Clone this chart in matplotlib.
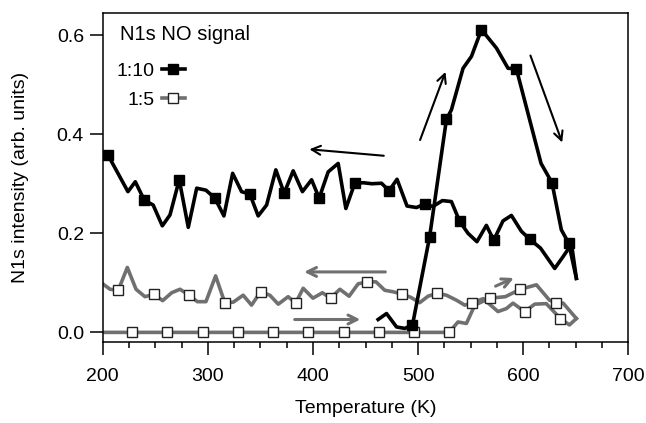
import matplotlib.pyplot as plt
from matplotlib.ticker import MultipleLocator

plt.rcParams['font.family'] = ['Liberation Sans', 'DejaVu Sans']

# 1:10, heating (rise and fall)
t10_heat = [462, 470, 479.5, 487.4, 494.7, 511, 527, 531.7, 542.8, 550.8, 560.3,
            574.5, 585.6, 593.5, 617, 627.4, 636.3, 643.3, 650.6]
v10_heat = [0.026, 0.038, 0.011, 0.008, 0.015, 0.193, 0.430, 0.449, 0.533, 0.557, 0.611,
            0.574, 0.533, 0.532, 0.341, 0.302, 0.207, 0.180, 0.109]
t10_heat_mk = [494.7, 511, 527, 560.3, 593.5, 627.4, 643.3]
v10_heat_mk = [0.015, 0.193, 0.430, 0.611, 0.532, 0.302, 0.180]

# 1:10, cooling
t10_cool = [205, 224, 231, 239.5, 248, 256.7, 264, 272.8, 281.4, 289.4, 298.2, 306.7,
            315.3, 323.6, 332.1, 340, 347.9, 355.9, 364.7, 372.6, 381.2, 390, 398.7,
            405.9, 414.5, 424, 431.3, 439.8, 448, 456, 465.2, 472.4, 480, 489.5, 498.5,
            506.4, 514, 523.2, 531.7, 539.6, 547.5, 556, 565, 572, 580.8, 588.8, 598.3,
            606.2, 616.5, 630, 638, 646, 650.6]
v10_cool = [0.358, 0.284, 0.304, 0.267, 0.257, 0.215, 0.237, 0.308, 0.212, 0.291, 0.287, 0.271,
            0.235, 0.321, 0.284, 0.279, 0.235, 0.257, 0.328, 0.281, 0.326, 0.284, 0.308,
            0.271, 0.324, 0.341, 0.250, 0.301, 0.302, 0.300, 0.301, 0.286, 0.309, 0.255, 0.252,
            0.259, 0.254, 0.266, 0.264, 0.224, 0.200, 0.183, 0.216, 0.186, 0.225, 0.236, 0.204,
            0.188, 0.170, 0.129, 0.153, 0.178, 0.109]
t10_cool_mk = [205, 239.5, 272.8, 306.7, 340, 372.6, 405.9, 439.8, 472.4, 506.4, 539.6, 572, 606.2]
v10_cool_mk = [0.358, 0.267, 0.308, 0.271, 0.279, 0.281, 0.271, 0.301, 0.286, 0.259, 0.224, 0.186, 0.188]

# 1:5, heating
t5_heat = [200, 529.5, 538, 546, 554, 568, 583, 597.3, 612.6, 625, 631, 638, 650.6]
v5_heat = [0.0, 0.0, 0.021, 0.018, 0.055, 0.069, 0.072, 0.087, 0.096, 0.065, 0.060, 0.059, 0.028]
t5_heat_mk = [227.6, 260.8, 295, 328.9, 362.2, 395.4, 429.4, 463, 496, 529.5, 568, 597.3, 631]
v5_heat_mk = [0, 0, 0, 0, 0, 0, 0, 0, 0, 0, 0.069, 0.087, 0.060]

# 1:5, cooling
t5_cool = [200, 207, 214.8, 223.4, 231.7, 240.2, 248.8, 257, 265.6, 273.5, 282.3, 290, 298.2,
           307.4, 316.3, 324.2, 333.6, 341.6, 350.2, 359, 367, 376.4, 383.5, 390.7, 400, 409,
           416.7, 425.6, 434.4, 443, 451.5, 460, 468.3, 476.2, 484.8, 492.8, 501.6, 509.5,
           518, 527, 536.5, 544.4, 551.7, 562, 576, 584, 590.3, 601.4, 611, 622, 635.4, 644, 650.6]
v5_cool = [0.098, 0.087, 0.085, 0.131, 0.087, 0.072, 0.077, 0.064, 0.080, 0.087, 0.075, 0.062, 0.062,
           0.114, 0.059, 0.061, 0.075, 0.055, 0.082, 0.075, 0.057, 0.072, 0.059, 0.089, 0.069, 0.080,
           0.069, 0.087, 0.073, 0.098, 0.102, 0.102, 0.085, 0.082, 0.077, 0.071, 0.060, 0.073,
           0.079, 0.075, 0.065, 0.055, 0.060, 0.068, 0.042, 0.048, 0.059, 0.042, 0.057, 0.058, 0.028, 0.015, 0.028]
t5_cool_mk = [214.8, 248.8, 282.3, 316.3, 350.2, 383.5, 416.7, 451.5, 484.8, 518, 551.7, 601.4, 635.4]
v5_cool_mk = [0.085, 0.077, 0.075, 0.059, 0.082, 0.059, 0.069, 0.102, 0.077, 0.079, 0.060, 0.042, 0.028]

# arrows: (start, end) in data units
black_arrows = [((470, 0.356), (394, 0.370)),
                ((501, 0.383), (527, 0.531)),
                ((606, 0.564), (638, 0.378))]
gray_arrows = [((471.5, 0.122), (389, 0.122)),
               ((380, 0.026), (447.7, 0.026)),
               ((571.3, 0.091), (593.5, 0.112))]

gray = '#707070'

fig = plt.figure(figsize=(6.46, 4.23), dpi=100)
ax = fig.add_axes([0.159, 0.1908, 0.8136, 0.7778])

ax.plot(t5_heat, v5_heat, color=gray, lw=2.6, zorder=2)
ax.plot(t5_cool, v5_cool, color=gray, lw=2.6, zorder=2)
ax.plot(t5_heat_mk, v5_heat_mk, 's', ms=7, mfc='white', mec='#222222', mew=1, zorder=3)
ax.plot(t5_cool_mk, v5_cool_mk, 's', ms=7, mfc='white', mec='#222222', mew=1, zorder=3)

ax.plot(t10_cool, v10_cool, color='black', lw=2.6, zorder=4)
ax.plot(t10_heat, v10_heat, color='black', lw=2.6, zorder=4)
ax.plot(t10_cool_mk, v10_cool_mk, 's', ms=7, color='black', zorder=5)
ax.plot(t10_heat_mk, v10_heat_mk, 's', ms=7, color='black', zorder=5)

for (x0, y0), (x1, y1) in black_arrows:
    ax.annotate('', xy=(x1, y1), xytext=(x0, y0),
                arrowprops=dict(arrowstyle='->', lw=1.5, color='black', mutation_scale=16))
for (x0, y0), (x1, y1) in gray_arrows:
    ax.annotate('', xy=(x1, y1), xytext=(x0, y0),
                arrowprops=dict(arrowstyle='->', lw=2.2, color=gray, mutation_scale=16))

ax.set_xlim(200, 700)
ax.set_ylim(-0.02, 0.644)
ax.xaxis.set_major_locator(MultipleLocator(100))
ax.xaxis.set_minor_locator(MultipleLocator(25))
ax.yaxis.set_major_locator(MultipleLocator(0.2))
ax.yaxis.set_major_formatter(lambda v, p: f'{v:.1f}')
ax.tick_params(which='major', direction='out', length=9.5, width=1.1, labelsize=14)
ax.tick_params(axis='x', which='major', pad=9)
ax.tick_params(axis='y', which='major', pad=4)
ax.tick_params(which='minor', direction='out', length=4.5, width=1.1)
for s in ax.spines.values():
    s.set_linewidth(1.1)

ax.set_xlabel('Temperature (K)', fontsize=14)
ax.set_ylabel('N1s intensity (arb. units)', fontsize=14)
ax.xaxis.set_label_coords(0.5, -0.175)
ax.yaxis.set_label_coords(-0.14, 0.5)

ax.text(0.033, 0.936, 'N1s NO signal', transform=ax.transAxes, fontsize=14.5, va='center')
h1, = ax.plot([], [], '-s', color='black', lw=2.6, ms=7)
h2, = ax.plot([], [], '-s', color=gray, lw=2.6, ms=7, mfc='white', mec='#222222', mew=1)
ax.legend([h1, h2], ['1:10', '1:5'], loc='upper right', bbox_to_anchor=(0.1566, 0.85),
          frameon=False, markerfirst=False, fontsize=14, handlelength=1.2,
          handletextpad=0.35, labelspacing=0.55, borderpad=0, borderaxespad=0)

fig.savefig('out.png', dpi=100)
